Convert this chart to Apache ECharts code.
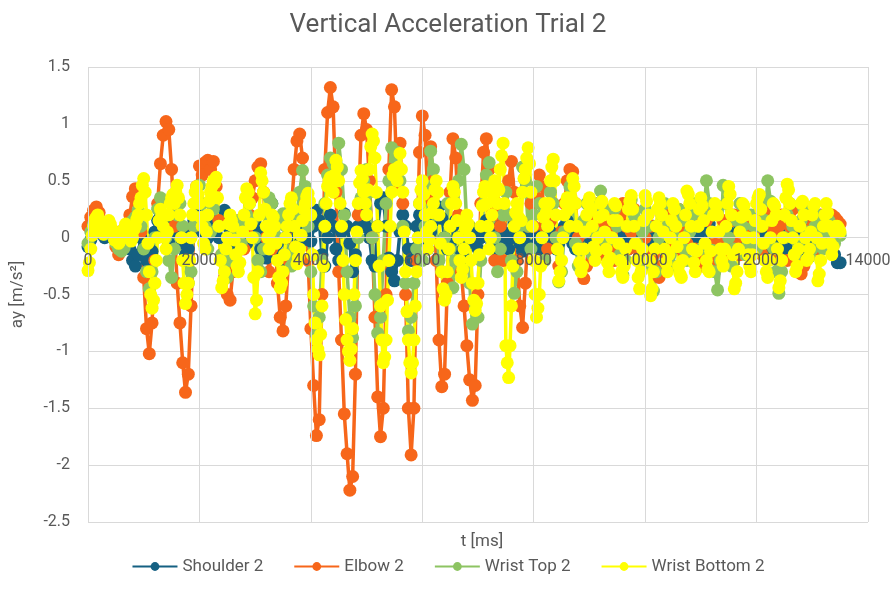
<!DOCTYPE html>
<html>
<head>
<meta charset="utf-8">
<script src="https://cdn.jsdelivr.net/npm/echarts@6/dist/echarts.min.js"></script>
<style>
html,body{margin:0;padding:0;background:#fff;}
#chart{width:896px;height:607px;}
</style>
</head>
<body>
<div id="chart"></div>
<script>
// Sampling intervals of the recorded channels (ms)
const SAMPLE_MS = 50;
const WRIST_BOTTOM_MS = 25;

const seriesNames = ['Shoulder 2', 'Elbow 2', 'Wrist Top 2', 'Wrist Bottom 2'];

// ay [m/s^2], one value per sample (0 .. 13500 ms)
const shoulder = [
 -0.08,-0.02,0.05,0.08,0.06,0.03,0.0,0.02,0.04,0.02,-0.03,-0.08,-0.1,-0.05,0.0,-0.1,-0.2,-0.25,-0.15,0.0,
 -0.1,-0.2,-0.25,-0.12,0.05,0.15,0.2,0.1,0.0,-0.05,0.05,0.15,0.2,0.1,-0.05,-0.15,-0.1,0.05,0.15,0.2,
 0.15,0.05,-0.05,0.0,0.1,0.15,0.1,0.0,0.15,0.24,0.1,-0.05,-0.1,0.0,0.1,0.15,0.05,-0.05,0.05,0.1,
 0.15,0.05,-0.1,-0.05,-0.18,0.0,0.3,0.15,-0.05,-0.15,-0.2,0.0,0.22,0.1,-0.1,-0.2,-0.05,0.1,0.15,0.05,
 -0.03,0.1,0.24,0.15,-0.15,-0.25,0.0,0.2,0.1,-0.1,-0.2,0.05,0.21,0.1,-0.05,-0.3,-0.15,0.1,0.25,0.15,
 0.09,0.0,-0.2,-0.25,0.1,0.3,0.35,0.1,-0.18,-0.3,-0.38,-0.2,0.05,0.2,0.1,-0.1,-0.2,-0.1,0.1,0.2,
 0.15,0.0,-0.1,0.05,0.15,0.2,0.27,0.17,0.0,-0.1,-0.05,0.1,0.15,0.0,-0.12,-0.18,-0.05,0.1,0.05,-0.05,
 -0.1,0.0,0.1,0.15,0.05,-0.05,-0.1,0.0,0.1,0.05,-0.05,-0.1,0.0,0.12,0.1,-0.05,-0.12,-0.05,0.05,0.1,
 0.05,-0.05,-0.1,0.0,0.1,0.12,0.05,-0.05,-0.1,-0.05,0.05,0.1,0.15,0.05,-0.05,-0.1,-0.05,0.05,0.1,0.05,
 0.0,-0.08,-0.1,0.0,0.08,0.1,0.05,-0.05,-0.08,0.0,0.1,0.12,0.05,-0.05,-0.1,-0.05,0.05,0.1,0.05,-0.05,
 -0.1,-0.05,0.05,0.1,0.08,0.0,-0.08,-0.1,0.0,0.1,0.12,0.05,-0.05,-0.1,-0.05,0.05,0.1,0.08,0.0,-0.08,
 -0.1,0.0,0.08,0.12,0.05,-0.05,-0.1,-0.05,0.05,0.1,0.05,-0.05,-0.1,0.0,0.1,0.12,0.05,-0.05,-0.1,0.0,
 0.08,0.1,0.05,-0.05,-0.1,-0.05,0.05,0.1,0.08,0.0,-0.08,-0.1,0.0,0.1,0.12,0.05,-0.05,-0.1,-0.05,0.05,
 0.1,0.05,-0.05,-0.1,0.0,0.08,0.05,-0.05,-0.15,-0.22,-0.22
];

const elbow = [
 0.10,0.18,0.24,0.27,0.22,0.12,0.08,0.07,0.09,0.06,-0.08,-0.15,-0.05,0.08,0.12,0.2,0.36,0.43,0.3,0.05,
 -0.35,-0.8,-1.02,-0.75,-0.2,0.3,0.65,0.9,1.02,0.95,0.6,0.1,-0.4,-0.75,-1.1,-1.36,-1.2,-0.6,0.1,0.45,
 0.63,0.55,0.66,0.68,0.6,0.67,0.45,0.15,-0.15,-0.35,-0.5,-0.55,-0.3,0.0,0.15,0.05,-0.1,0.05,0.2,0.35,
 0.5,0.62,0.65,0.4,0.0,-0.3,-0.1,0.15,-0.4,-0.7,-0.82,-0.6,-0.2,0.25,0.6,0.85,0.91,0.7,0.3,-0.2,
 -0.8,-1.3,-1.74,-1.6,-0.5,0.6,1.1,1.32,1.15,0.4,-0.3,-0.9,-1.55,-1.9,-2.22,-2.1,-1.2,0.2,0.9,1.09,
 0.95,0.5,0.0,-0.7,-1.4,-1.75,-1.5,-0.5,0.6,1.3,1.15,0.45,0.83,0.3,-0.5,-1.5,-1.91,-1.5,-0.2,0.75,
 1.07,0.9,0.35,0.8,0.5,-0.2,-0.9,-1.31,-1.2,-0.4,0.4,0.87,0.7,0.2,-0.3,-0.6,-0.95,-1.25,-1.43,-1.3,
 -0.5,0.3,0.75,0.87,0.6,0.2,-0.2,0.3,0.1,-0.2,0.2,0.5,0.67,0.4,-0.2,-0.6,-0.79,-0.4,0.1,0.3,
 0.1,0.35,0.55,0.45,0.1,-0.1,0.15,0.3,0.0,-0.25,0.05,0.3,0.5,0.6,0.58,0.3,0.0,-0.25,-0.36,-0.25,
 0.05,0.2,0.3,0.1,-0.15,-0.1,0.15,0.25,0.05,-0.2,-0.1,0.2,0.3,0.1,-0.1,0.05,0.25,0.15,-0.15,-0.2,
 0.0,0.2,0.1,-0.15,-0.3,-0.35,-0.25,0.05,0.2,0.1,-0.1,0.1,0.25,0.05,-0.15,-0.05,0.2,0.15,-0.1,-0.2,
 -0.25,-0.1,0.15,0.27,0.2,-0.05,-0.2,0.0,0.15,-0.23,-0.1,0.15,0.2,0.0,-0.15,0.05,0.2,0.1,-0.1,0.05,
 0.2,0.1,-0.15,-0.05,0.15,0.25,0.05,-0.15,0.1,0.2,0.0,-0.2,0.1,0.25,0.1,-0.2,-0.32,-0.25,0.05,0.2,
 0.1,-0.1,0.05,0.2,0.1,-0.05,0.1,0.2,0.18,0.15,0.12
];

const wristTop = [
 -0.05,0.05,0.12,0.15,0.1,0.05,0.03,0.05,0.06,0.02,-0.05,-0.1,-0.12,-0.09,0.0,0.08,0.15,0.18,0.24,0.1,
 -0.1,-0.3,-0.45,-0.3,0.0,0.25,0.35,0.2,0.0,-0.2,-0.35,-0.1,0.2,0.3,0.1,-0.2,-0.4,-0.3,0.1,0.4,
 0.46,0.3,0.1,-0.1,0.05,0.25,0.35,0.1,-0.15,-0.3,-0.35,-0.2,0.0,0.15,0.05,-0.05,0.1,0.2,0.3,0.15,
 0.0,-0.2,-0.3,-0.1,0.2,0.35,0.3,0.1,0.0,0.15,0.21,0.1,-0.15,-0.25,-0.1,0.2,0.4,0.59,0.45,0.1,
 -0.3,-0.6,-0.85,-0.7,-0.2,0.3,0.55,0.7,0.65,0.5,0.83,0.6,0.2,-0.3,-0.7,-0.88,-0.6,0.0,0.35,0.5,
 0.6,0.4,0.0,-0.5,-0.84,-0.7,-0.2,0.3,0.5,0.79,0.6,0.75,0.5,0.1,-0.4,-0.82,-0.7,-0.4,-0.1,0.3,
 -0.2,0.1,0.45,0.76,0.6,0.2,-0.2,-0.3,0.0,0.3,-0.1,-0.44,-0.2,0.5,0.82,0.6,0.1,-0.4,-0.76,-0.6,
 -0.7,-0.2,0.3,0.55,0.66,0.4,0.0,-0.3,-0.1,0.2,0.4,0.2,-0.2,-0.49,-0.3,0.1,0.62,0.5,0.1,-0.1,
 0.2,0.45,0.3,0.0,-0.2,0.1,0.4,0.3,0.0,-0.39,-0.3,0.05,0.3,0.45,0.3,-0.05,-0.25,-0.1,0.15,0.3,
 0.1,-0.15,0.05,0.3,0.41,0.25,-0.05,-0.2,0.0,0.25,0.1,-0.15,-0.33,-0.2,0.1,0.33,0.2,-0.05,-0.2,0.05,
 0.25,0.1,-0.25,-0.47,-0.3,0.0,0.2,0.3,0.1,-0.15,-0.25,0.0,0.25,0.15,-0.1,-0.2,0.05,0.2,0.3,0.1,
 -0.1,0.2,0.5,0.3,-0.11,-0.3,-0.46,-0.2,0.46,0.3,0.0,-0.25,-0.1,0.15,0.3,0.1,-0.15,-0.05,0.2,0.1,
 -0.1,0.1,0.3,0.15,0.5,0.32,-0.09,-0.3,-0.49,-0.3,0.0,0.2,0.3,0.1,-0.15,-0.05,0.15,0.25,0.05,-0.17,
 -0.1,0.1,0.2,0.05,-0.1,0.0,0.15,0.1,-0.05,0.05,0.02
];

// Wrist Bottom channel is sampled every 25 ms (0 .. 13500 ms)
const wristBottom = [
 -0.29,-0.22,-0.1,0.02,0.1,0.16,0.18,0.2,0.15,0.1,0.08,0.03,0.05,0.12,0.1,0.15,0.12,0.08,0.05,-0.02,
 0.0,0.04,-0.05,-0.03,0.02,0.06,0.08,0.12,0.1,0.08,0.05,-0.03,0.0,0.07,0.1,0.16,0.2,0.3,0.35,0.46,
 0.52,0.4,0.2,-0.05,-0.3,-0.5,-0.62,-0.55,-0.4,-0.2,0.0,0.15,0.25,0.2,0.1,0.0,-0.1,0.05,0.2,0.3,
 0.35,0.38,0.3,0.4,0.46,0.35,0.2,0.0,-0.2,-0.4,-0.58,-0.5,-0.4,-0.2,0.0,0.2,0.3,0.4,0.45,0.38,
 0.3,0.18,0.1,-0.05,-0.1,0.05,0.2,0.32,0.4,0.45,0.5,0.48,0.53,0.35,0.1,-0.2,-0.44,-0.38,-0.3,-0.1,
 0.0,0.12,0.2,0.15,0.1,-0.02,-0.15,-0.25,-0.3,-0.22,-0.1,0.05,0.2,0.35,0.43,0.4,0.3,0.12,0.0,-0.35,
 -0.67,-0.55,-0.3,0.2,0.57,0.5,0.4,0.25,0.1,0.0,-0.1,0.05,0.2,0.18,0.1,-0.05,-0.2,-0.35,-0.44,-0.4,
 -0.3,-0.15,0.0,0.1,0.2,0.3,0.35,0.25,0.1,-0.08,-0.23,-0.18,-0.1,0.02,0.15,0.25,0.3,0.36,0.39,0.32,
 0.2,-0.15,-0.5,-0.75,-0.9,-0.98,-1.03,-0.85,-0.6,-0.25,0.1,0.3,0.45,0.5,0.53,0.48,0.4,0.55,0.68,0.62,
 0.5,0.3,0.1,-0.2,-0.5,-0.72,-0.9,-1.0,-1.08,-0.98,-0.8,-0.5,-0.2,0.05,0.3,0.48,0.59,0.52,0.4,0.3,
 0.2,0.42,0.6,0.8,0.91,0.85,0.7,0.4,0.1,-0.25,-0.6,-0.9,-1.1,-1.05,-0.9,-0.55,-0.2,0.1,0.4,0.55,
 0.6,0.58,0.5,0.62,0.74,0.6,0.4,0.05,-0.3,-0.65,-0.9,-1.1,-1.19,-1.1,-0.9,-0.6,-0.3,0.0,0.3,0.42,
 0.5,0.38,0.2,0.05,-0.1,-0.02,0.1,0.22,0.3,0.42,0.5,0.4,0.2,-0.05,-0.3,-0.45,-0.55,-0.5,-0.3,-0.1,
 0.1,0.3,0.45,0.4,0.3,0.15,0.0,-0.2,-0.35,-0.28,-0.1,0.08,0.2,0.12,0.0,-0.2,-0.4,-0.55,-0.64,-0.58,
 -0.4,-0.15,0.1,0.28,0.4,0.45,0.3,0.1,-0.1,0.0,0.2,0.38,0.5,0.45,0.3,0.42,0.6,0.72,0.83,0.3,
 -0.95,-1.1,-1.23,-0.95,-0.6,-0.25,0.1,0.22,0.3,0.18,0.0,0.15,0.4,0.52,0.6,0.7,0.79,0.65,0.4,0.1,
 -0.2,-0.5,-0.7,-0.62,-0.5,-0.25,0.0,0.18,0.3,0.22,0.1,0.3,0.5,0.62,0.69,0.5,0.2,-0.1,-0.38,-0.3,
 -0.2,0.0,0.2,0.3,0.35,0.25,0.1,0.35,0.52,0.45,0.3,0.1,-0.1,-0.22,-0.3,-0.25,-0.1,0.05,0.2,0.3,
 0.35,0.25,0.1,-0.08,-0.2,-0.12,0.0,0.18,0.3,0.32,0.2,0.05,-0.1,-0.22,-0.3,-0.18,0.0,0.15,0.3,0.28,
 0.15,-0.05,-0.2,-0.3,-0.35,-0.25,-0.1,0.1,0.25,0.32,0.37,0.25,0.1,-0.05,-0.2,-0.35,-0.45,-0.3,-0.1,0.15,
 0.37,0.32,0.2,-0.2,-0.51,-0.45,-0.3,-0.1,0.1,0.25,0.35,0.3,0.2,0.05,-0.1,-0.22,-0.3,-0.15,0.0,0.15,
 0.3,0.25,0.1,-0.08,-0.25,-0.32,-0.35,-0.2,0.0,0.2,0.41,0.38,0.3,0.1,-0.1,-0.22,-0.3,-0.12,0.1,0.25,
 0.35,0.28,0.15,-0.05,-0.2,-0.28,-0.3,-0.12,0.05,0.2,0.3,0.28,0.2,0.05,-0.1,-0.2,-0.25,-0.1,0.1,0.3,
 0.45,0.38,0.2,-0.15,-0.45,-0.4,-0.3,-0.1,0.05,0.18,0.3,0.28,0.2,0.0,-0.15,-0.25,-0.3,-0.15,0.0,0.15,
 0.3,0.35,0.38,0.25,0.1,-0.05,-0.2,-0.3,-0.35,-0.2,0.0,0.15,0.3,0.28,0.2,-0.1,-0.44,-0.38,-0.2,0.0,
 0.2,0.35,0.47,0.42,0.3,0.15,0.0,-0.15,-0.3,-0.25,-0.1,0.1,0.3,0.32,0.2,0.0,-0.2,-0.18,-0.1,0.05,
 0.2,0.28,0.3,0.0,-0.38,-0.32,-0.2,-0.05,0.1,0.2,0.3,0.22,0.1,-0.05,-0.15,-0.08,0.05,0.1,0.1,0.08,
 0.05
];

const seriesValues = [shoulder, elbow, wristTop, wristBottom];
const seriesSteps = [SAMPLE_MS, SAMPLE_MS, SAMPLE_MS, WRIST_BOTTOM_MS];
const seriesColors = ['#156082', '#F7661A', '#8DC462', '#FFFF00'];

const FONT = 'Roboto, "Open Sans", sans-serif';
const TEXT = '#595959';

const chart = echarts.init(document.getElementById('chart'), null, {renderer: 'canvas'});

const series = seriesNames.map((name, k) => ({
  name: name,
  type: 'line',
  data: seriesValues[k].map((v, i) => [i * seriesSteps[k], v]),
  symbol: 'circle',
  symbolSize: 13,
  showSymbol: true,
  lineStyle: {width: 3.5, color: seriesColors[k]},
  itemStyle: {color: seriesColors[k], borderWidth: 0},
  emphasis: {disabled: true},
  animation: false
}));

chart.setOption({
  animation: false,
  backgroundColor: '#ffffff',
  textStyle: {fontFamily: FONT},
  title: [
    {
      text: 'Vertical Acceleration Trial 2',
      left: 'center',
      top: 7,
      textStyle: {color: TEXT, fontSize: 26, fontWeight: 'normal', fontFamily: FONT}
    },
    {
      text: 't [ms]',
      left: 477, textAlign: 'center',
      top: 528,
      textStyle: {color: TEXT, fontSize: 17, fontWeight: 'normal', fontFamily: FONT}
    }
  ],
  legend: {
    data: seriesNames,
    bottom: 27,
    left: 'center',
    itemWidth: 45,
    itemHeight: 11,
    itemGap: 30,
    textStyle: {color: TEXT, fontSize: 17, fontFamily: FONT}
  },
  grid: {left: 88, right: 28, top: 67, bottom: 85, containLabel: false},
  xAxis: {
    type: 'value',
    min: 0, max: 14000, interval: 2000,
    offset: -285,
    z: 10,
    axisLine: {show: true, onZero: false, lineStyle: {color: '#D9D9D9', width: 1}},
    axisTick: {show: false},
    axisLabel: {color: TEXT, fontSize: 16, margin: 16, fontFamily: FONT, formatter: v => String(v)},
    splitLine: {show: true, lineStyle: {color: '#D9D9D9', width: 1}}
  },
  yAxis: {
    type: 'value',
    min: -2.5, max: 1.5, interval: 0.5,
    name: 'ay [m/s²]',
    nameLocation: 'middle',
    nameRotate: 90,
    nameGap: 62,
    nameTextStyle: {color: TEXT, fontSize: 17, fontFamily: FONT},
    axisLine: {show: false},
    axisTick: {show: false},
    axisLabel: {color: TEXT, fontSize: 16, margin: 18, fontFamily: FONT},
    splitLine: {show: true, lineStyle: {color: '#D9D9D9', width: 1}}
  },
  series: series
});
</script>
</body>
</html>
